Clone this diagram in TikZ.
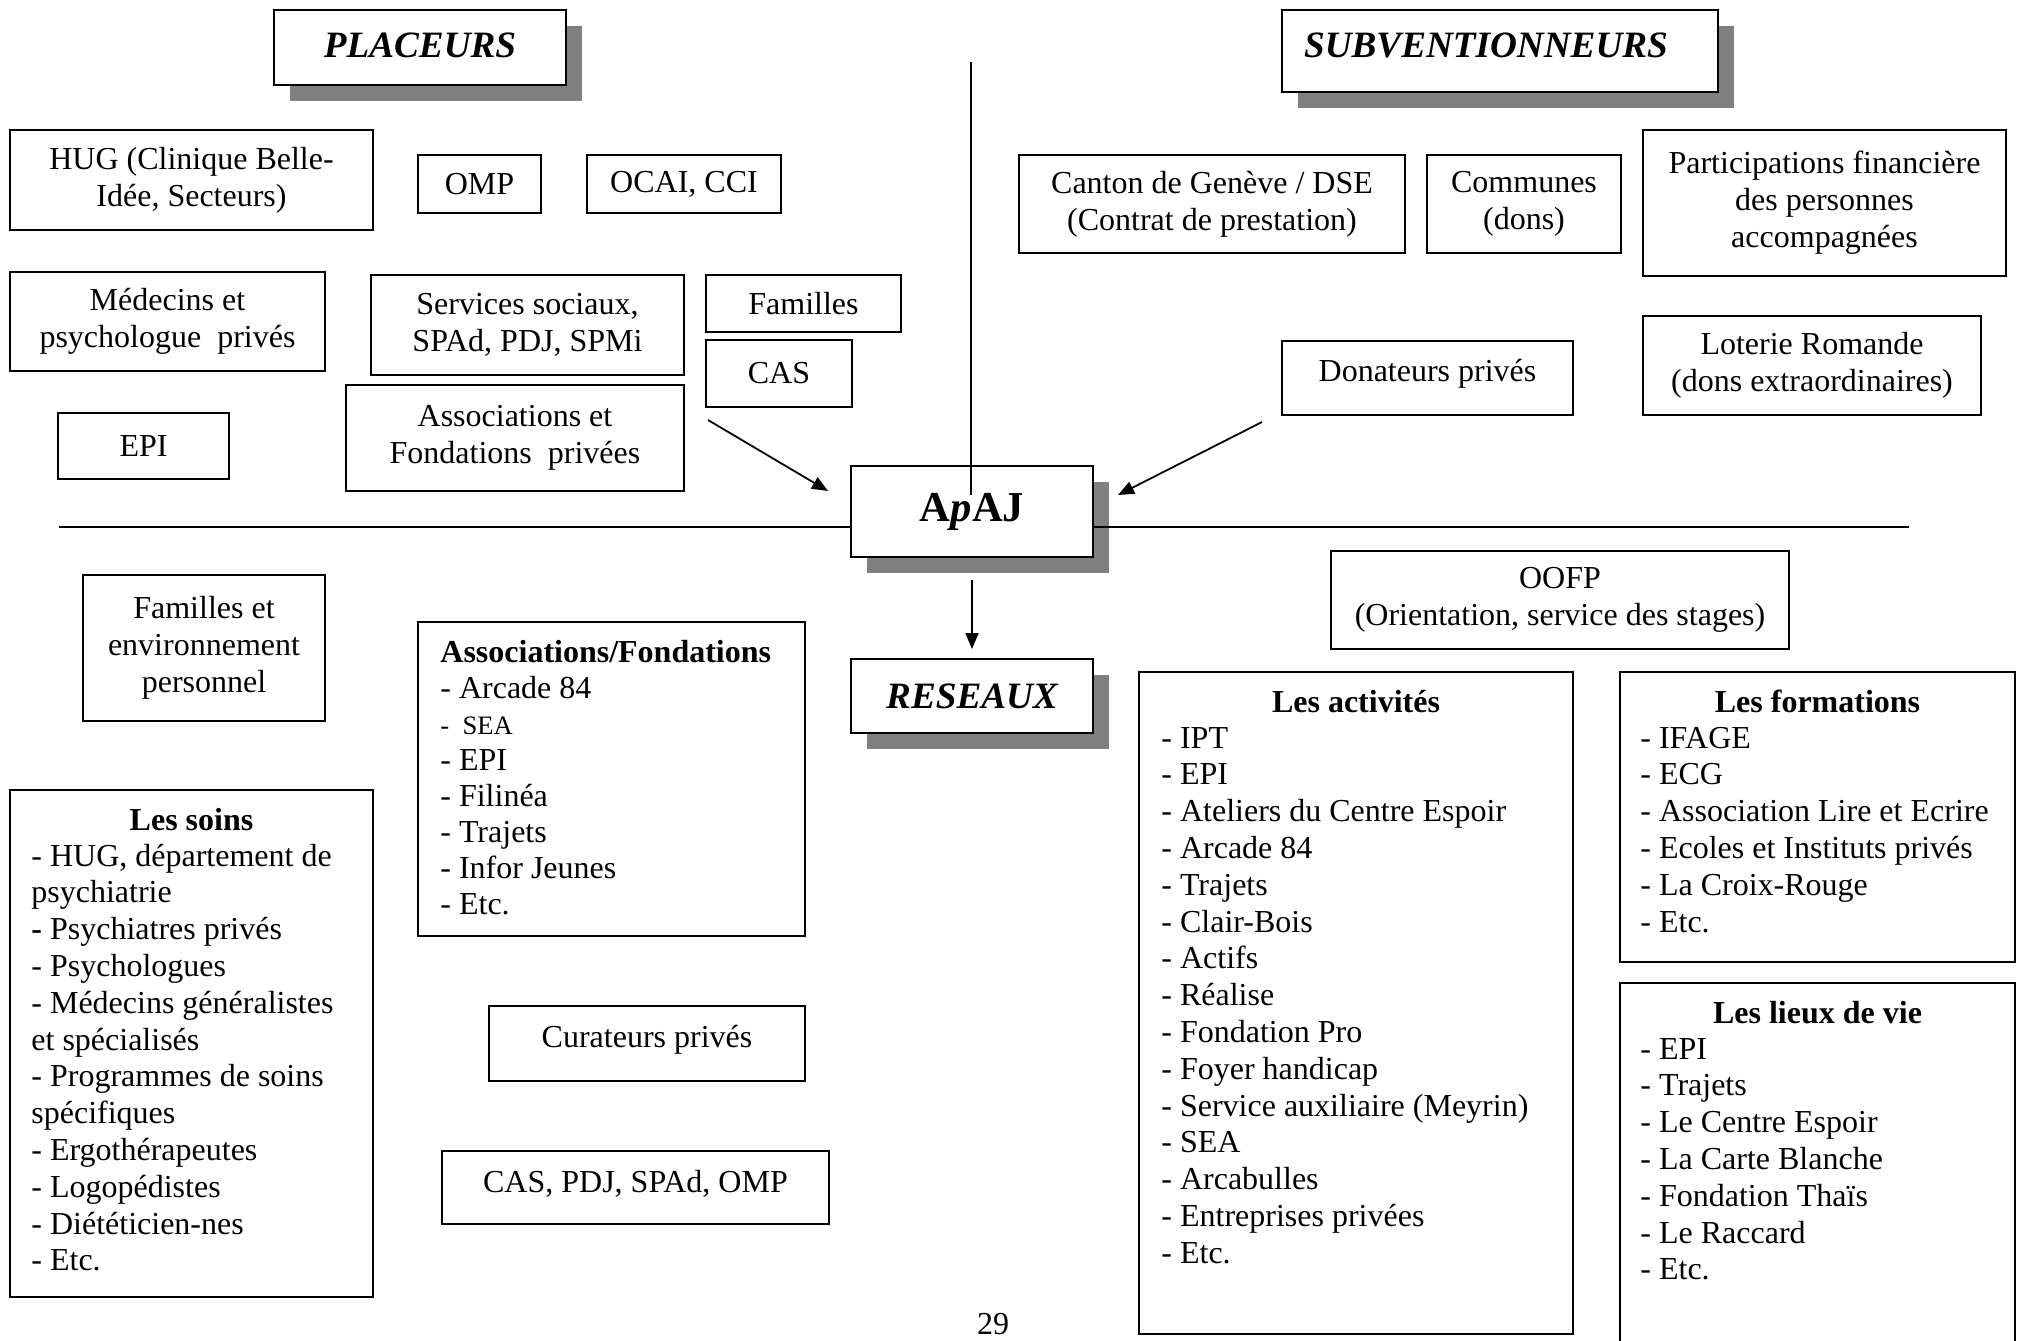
\documentclass[tikz,border=0pt]{standalone}
\usepackage{fontspec}
\setmainfont{Liberation Serif}
\usetikzlibrary{arrows.meta,shadows}
\newcommand\liftby[2]{\raisebox{#1}[\height][\depth]{#2}}
\tikzset{
  rect/.style args={#1/#2/#3/#4}{minimum width={(#3-#1)*0.5pt}, minimum height={(#4-#2)*0.5pt}, at={({(#1+#3)/2},{(#2+#4)/2})}},
  frame/.style={draw=black, line width=0.9pt, fill=white, inner sep=0pt, align=center, font=\fontsize{16}{18.5}\selectfont},
  shadowed/.style={drop shadow={shadow xshift=8pt, shadow yshift=-8pt, opacity=1, fill=black!50}},
  head/.style={font=\fontsize{18.6}{21}\selectfont\bfseries\itshape},
  conn/.style={line width=0.9pt},
  arr/.style={line width=0.9pt, -{Triangle[length=8pt,width=6.5pt]}},
  txt/.style={inner sep=0pt, font=\fontsize{16}{18.4}\selectfont},
  ttl/.style={inner sep=0pt, font=\fontsize{16}{18.4}\selectfont\bfseries},
}
\begin{document}
\begin{tikzpicture}[x=0.5pt,y=-0.5pt]
\useasboundingbox (0,0) rectangle (2025,1340);
\clip (0,0) rectangle (2025,1340);
% headers
\node[frame, shadowed, head, rect=274/10/566/85] (plac) {\liftby{1.2pt}{PLACEURS}};
\node[frame, shadowed, head, rect=1282/10/1718/92] (subv) {\liftby{3pt}{SUBVENTIONNEURS}\rule{14pt}{0pt}};
% placeurs
\node[frame, rect=10/130/373/230] (hug) {HUG (Clinique Belle-\\Idée, Secteurs)};
\node[frame, rect=418/155/541/213] (omp) {OMP};
\node[frame, rect=587/155/781/213] (ocai) {OCAI, CCI};
\node[frame, rect=10/272/325/371] (med) {Médecins et\\psychologue\ \ privés};
\node[frame, rect=371/275/684/375] (serv) {Services sociaux,\\SPAd, PDJ, SPMi};
\node[frame, rect=706/275/901/332] (fam) {Familles};
\node[frame, rect=706/340/852/407] (cas) {CAS};
\node[frame, rect=58/413/229/479] (epi) {EPI};
\node[frame, rect=346/385/684/491] (assoc) {Associations et\\Fondations\ \ privées};
% subventionneurs
\node[frame, rect=1019/155/1405/253] (canton) {Canton de Genève / DSE\\(Contrat de prestation)};
\node[frame, rect=1427/155/1621/253] (comm) {Communes\\(dons)};
\node[frame, rect=1643/130/2006/276] (part) {Participations financière\\des personnes\\accompagnées};
\node[frame, rect=1282/341/1573/415] (don) {\liftby{2pt}{Donateurs privés}};
\node[frame, rect=1643/316/1981/415] (lot) {Loterie Romande\\(dons extraordinaires)};
% centre
\node[frame, shadowed, rect=851/466/1093/557, font=\fontsize{21.3}{24}\selectfont\bfseries] (apaj) {A\textit{p}AJ};
\node[frame, shadowed, head, rect=851/659/1093/733] (res) {RESEAUX};
% reseaux
\node[frame, rect=83/575/325/721] (famenv) {Familles et\\environnement\\personnel};
\node[frame, rect=418/622/805/936] (af) {};
\node[frame, rect=10/790/373/1297] (soins) {};
\node[frame, rect=489/1006/805/1081] (cur) {\liftby{2pt}{Curateurs privés}};
\node[frame, rect=442/1151/829/1224] (caspdj) {\liftby{2pt}{CAS, PDJ, SPAd, OMP}};
\node[frame, rect=1331/551/1789/649] (oofp) {OOFP\\(Orientation, service des stages)};
\node[frame, rect=1139/672/1573/1334] (act) {};
\node[frame, rect=1620/672/2015/962] (form) {};
\node[frame, rect=1620/983/2015/1400] (lieux) {};
% connectors
\coordinate (vtop) at (971,62);
\coordinate (vend) at (971,495);
\draw[conn] (vtop) -- (vend);
\coordinate (hl) at (59,527);
\coordinate (hr) at (1909,527);
\draw[conn] (hl) -- (hl -| apaj.west);
\draw[conn] (hr -| apaj.east) -- (hr);
\coordinate (a1s) at (708,420);
\coordinate (a1e) at (828,491);
\draw[arr] (a1s) -- (a1e);
\coordinate (a2s) at (1262,422);
\coordinate (a2e) at (1118,495);
\draw[arr] (a2s) -- (a2e);
\draw[arr] ([yshift=-11pt]apaj.south) -- ([yshift=4.5pt]res.north);
% list texts
\node[ttl, anchor=base west] (afT) at (440,662) {Associations/Fondations};
\node[txt, anchor=base west, font=\fontsize{16}{18}\selectfont] (afL) at (440,698) {\begin{tabular}[t]{@{}l@{}}- Arcade 84\\{\fontsize{13.3}{18}\selectfont-\ \ SEA}\\- EPI\\- Filinéa\\- Trajets\\- Infor Jeunes\\- Etc.\end{tabular}};
\node[ttl, anchor=base] (soinsT) at (191.5,830) {Les soins};
\node[txt, anchor=base west] (soinsL) at (31,866) {\begin{tabular}[t]{@{}l@{}}- HUG, département de\\psychiatrie\\\textbf{-} Psychiatres privés\\- Psychologues\\- Médecins généralistes\\et spécialisés\\- Programmes de soins\\spécifiques\\- Ergothérapeutes\\- Logopédistes\\- Diététicien-nes\\- Etc.\end{tabular}};
\node[ttl, anchor=base] (actT) at (1356,712) {Les activités};
\node[txt, anchor=base west] (actL) at (1161,748) {\begin{tabular}[t]{@{}l@{}}- IPT\\- EPI\\- Ateliers du Centre Espoir\\- Arcade 84\\- Trajets\\- Clair-Bois\\- Actifs\\- Réalise\\- Fondation Pro\\- Foyer handicap\\- Service auxiliaire (Meyrin)\\- SEA\\- Arcabulles\\- Entreprises privées\\- Etc.\end{tabular}};
\node[ttl, anchor=base] (formT) at (1817.5,712) {Les formations};
\node[txt, anchor=base west] (formL) at (1640,748) {\begin{tabular}[t]{@{}l@{}}- IFAGE\\- ECG\\- Association Lire et Ecrire\\- Ecoles et Instituts privés\\- La Croix-Rouge\\- Etc.\end{tabular}};
\node[ttl, anchor=base] (lieuxT) at (1817.5,1023) {Les lieux de vie};
\node[txt, anchor=base west] (lieuxL) at (1640,1059) {\begin{tabular}[t]{@{}l@{}}- EPI\\- Trajets\\- Le Centre Espoir\\- La Carte Blanche\\- Fondation Thaïs\\- Le Raccard\\- Etc.\end{tabular}};
\node[txt, anchor=base] (pg) at (993,1334) {29};
\end{tikzpicture}
\end{document}
